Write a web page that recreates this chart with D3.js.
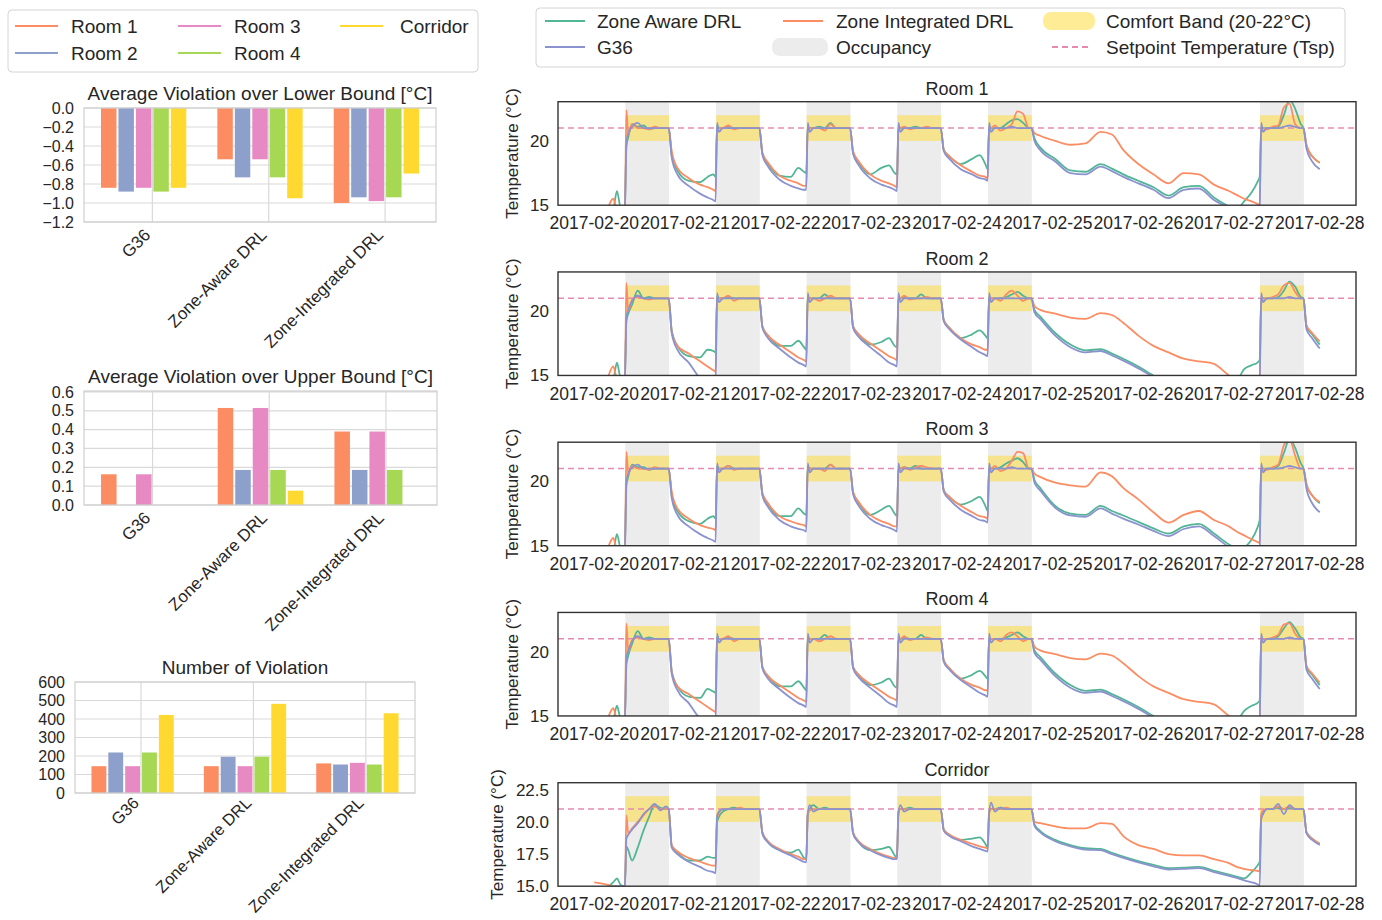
<!DOCTYPE html>
<html>
<head>
<meta charset="utf-8">
<title>Comfort violations and zone temperatures</title>
<style>
  body { margin: 0; background: #fff; }
  svg { font-family: "Liberation Sans", Arial, Helvetica, sans-serif; }
</style>
</head>
<body>
<svg width="1382" height="920" viewBox="0 0 1382 920"></svg>
<script src="https://d3js.org/d3.v7.min.js"></script>
<script>
// ---- bar chart data (left column) ----
const zones = ['Room 1', 'Room 2', 'Room 3', 'Room 4', 'Corridor'];
const methods = ['G36', 'Zone-Aware DRL', 'Zone-Integrated DRL'];

const lowerG36 = [-0.84, -0.88, -0.84, -0.88, -0.84];
const lowerZoneAware = [-0.54, -0.73, -0.54, -0.73, -0.95];
const lowerZoneIntegrated = [-1.0, -0.94, -0.98, -0.94, -0.69];

const upperG36 = [0.163, 0, 0.163, 0, 0];
const upperZoneAware = [0.515, 0.186, 0.515, 0.186, 0.076];
const upperZoneIntegrated = [0.39, 0.186, 0.39, 0.186, 0];

const countG36 = [145, 219, 145, 219, 422];
const countZoneAware = [145, 196, 145, 196, 482];
const countZoneIntegrated = [160, 154, 163, 154, 431];

const lowerTicks = [0, -0.2, -0.4, -0.6, -0.8, -1.0, -1.2];
const upperTicks = [0, 0.1, 0.2, 0.3, 0.4, 0.5, 0.6];
const countTicks = [0, 100, 200, 300, 400, 500, 600];

// ---- time series data (right column) ----
// hours after 2017-02-20 00:00
const hours = [
  0, 3, 5, 6, 7, 8.1,
  8.5, 9, 10, 11.5, 13, 14.5, 16, 17.5, 19, 19.7,
  20.5, 22, 25, 28, 30, 31.5, 32.1,
  32.5, 33, 34, 35.5, 37, 38.5, 40, 41.5, 43, 43.7,
  44.5, 46, 49, 52, 54, 55.5, 56.1,
  56.5, 57, 58, 59.5, 61, 62.5, 64, 65.5, 67, 67.7,
  68.5, 70, 73, 76, 78, 79.5, 80.1,
  80.5, 81, 82, 83.5, 85, 86.5, 88, 89.5, 91, 91.7,
  92.5, 94, 97, 100, 102, 103.5, 104.1,
  104.5, 105, 106, 107.5, 109, 110.5, 112, 113.5, 115, 115.7,
  116.5, 118, 122, 126, 130, 134, 137, 140, 144, 148, 152, 156, 160, 164, 168, 170, 172, 174, 175.5, 176.1,
  176.5, 177, 178, 179.5, 181, 182.5, 184, 185.5, 187, 187.7,
  188.5, 190, 192
];

const room1ZoneAware = [
  14.5, 14.5, 14.7, 16.1, 14.8, 15.0,
  19.6, 20.3, 21.3, 21.1, 21.2, 20.9, 21.0, 21.0, 21.0, 21.0,
  18.9, 17.7, 16.9, 16.8, 17.2, 17.4, 17.2,
  21.2, 21.0, 21.0, 21.1, 21.0, 21.0, 21.0, 21.0, 21.0, 21.0,
  19.0, 18.2, 17.3, 17.2, 17.9, 17.6, 17.5,
  21.1, 21.0, 21.0, 21.1, 21.0, 21.4, 21.0, 21.0, 21.0, 21.0,
  19.1, 18.3, 17.4, 17.9, 18.1, 17.5, 17.4,
  21.1, 21.0, 21.0, 21.0, 21.1, 21.0, 21.0, 21.0, 21.0, 21.0,
  19.3, 18.8, 18.2, 18.6, 18.9, 18.2, 17.8,
  21.0, 21.0, 21.0, 21.0, 21.3, 21.6, 21.7, 21.4, 21.0, 21.0,
  20.2, 19.5, 18.6, 17.7, 17.6, 18.2, 17.85, 17.4, 16.9, 16.4, 15.75, 16.4, 16.5, 15.6, 14.9, 14.7, 15.3, 16.0, 16.8, 17.2,
  20.8, 21.0, 21.0, 21.0, 21.1, 22.0, 23.2, 22.5, 21.3, 21.0,
  19.6, 18.8, 18.3
];
const room1ZoneIntegrated = [
  14.5, 14.6, 15.5, 14.8, 14.8, 14.9,
  22.4, 20.5, 21.3, 21.0, 21.0, 20.9, 21.1, 21.0, 21.0, 21.0,
  19.2, 17.9, 17.1, 16.6, 16.4, 16.2, 16.1,
  21.0, 21.0, 21.0, 21.2, 20.9, 21.0, 21.0, 21.0, 21.0, 21.0,
  19.1, 18.3, 17.3, 16.9, 16.7, 16.5, 16.5,
  21.0, 21.0, 21.0, 21.0, 20.8, 21.3, 21.0, 21.0, 21.0, 21.0,
  19.2, 18.4, 17.4, 16.9, 16.7, 16.5, 16.4,
  21.0, 21.0, 21.1, 20.9, 21.0, 21.0, 21.1, 21.0, 21.0, 21.0,
  19.3, 18.8, 18.1, 17.6, 17.3, 17.2, 17.1,
  21.0, 21.0, 21.2, 20.8, 21.0, 21.3, 22.3, 22.1, 21.0, 21.0,
  20.6, 20.4, 20.0, 19.7, 19.8, 20.7, 20.5, 19.3, 18.2, 17.4, 16.7, 17.5, 17.4, 16.6, 16.1, 15.8, 15.5, 15.3, 15.1, 15.0,
  21.0, 21.0, 20.9, 21.1, 21.2, 22.6, 22.9, 21.3, 21.0, 21.0,
  19.7, 18.8, 18.3
];
const room1G36 = [
  14.5, 14.5, 14.5, 14.5, 14.6, 14.8,
  19.8, 20.6, 21.1, 21.4, 21.0, 21.0, 21.0, 21.0, 21.0, 21.0,
  18.7, 17.4, 16.5, 15.9, 15.6, 15.4, 15.3,
  21.4, 20.7, 21.0, 21.0, 21.0, 21.0, 21.0, 21.0, 21.0, 21.0,
  18.9, 18.0, 17.0, 16.5, 16.3, 16.2, 16.2,
  21.4, 20.7, 21.0, 21.0, 21.0, 21.0, 21.0, 21.0, 21.0, 21.0,
  19.0, 18.1, 17.1, 16.6, 16.4, 16.2, 16.1,
  21.4, 20.7, 21.0, 21.0, 21.0, 21.0, 21.0, 21.0, 21.0, 21.0,
  19.2, 18.6, 17.8, 17.4, 17.1, 17.0, 16.9,
  21.4, 20.7, 21.0, 21.0, 21.0, 21.1, 21.0, 21.0, 21.0, 21.0,
  20.0, 19.3, 18.4, 17.5, 17.4, 18.0, 17.65, 17.2, 16.7, 16.2, 15.55, 16.2, 16.3, 15.4, 14.8, 14.6, 14.5, 14.5, 14.5, 14.6,
  21.4, 20.7, 21.0, 21.0, 21.0, 21.1, 21.2, 21.1, 21.0, 21.0,
  19.4, 18.4, 17.8
];

const room2ZoneAware = [
  14.5, 14.5, 14.7, 16.0, 14.8, 14.9,
  19.2, 19.8, 20.5, 21.6, 21.0, 21.1, 21.0, 21.0, 21.0, 21.0,
  18.5, 17.3, 16.5, 16.4, 17.0, 16.9, 16.8,
  21.2, 21.0, 21.0, 21.1, 21.0, 21.0, 21.0, 21.0, 21.0, 21.0,
  18.8, 18.1, 17.3, 17.3, 17.7, 17.2, 17.0,
  21.1, 21.0, 21.0, 21.0, 21.3, 21.0, 21.0, 21.0, 21.0, 21.0,
  18.8, 18.2, 17.4, 17.6, 17.9, 17.3, 17.2,
  21.0, 21.0, 21.1, 21.0, 21.0, 21.3, 21.0, 21.0, 21.0, 21.0,
  19.3, 18.7, 17.9, 18.2, 18.5, 18.1, 17.9,
  21.0, 21.0, 21.0, 21.0, 21.1, 21.3, 21.5, 21.2, 21.0, 21.0,
  20.1, 19.6, 18.3, 17.4, 16.95, 17.05, 16.7, 16.3, 15.7, 15.0, 14.6, 14.5, 14.5, 14.5, 14.5, 14.6, 15.5, 15.8, 16.0, 16.2,
  20.6, 21.0, 21.0, 21.0, 21.1, 21.6, 22.3, 21.9, 21.1, 21.0,
  18.8, 18.2, 17.4
];
const room2ZoneIntegrated = [
  14.5, 14.6, 15.7, 14.8, 14.7, 14.8,
  22.2, 20.0, 20.9, 21.1, 21.0, 20.9, 21.0, 21.0, 21.0, 21.0,
  18.4, 17.3, 16.7, 16.1, 15.7, 15.4, 15.3,
  21.0, 21.0, 21.0, 21.2, 20.8, 21.0, 21.0, 21.0, 21.0, 21.0,
  18.8, 18.1, 17.4, 16.8, 16.4, 16.2, 16.1,
  21.0, 21.0, 21.0, 20.8, 21.0, 21.2, 21.0, 21.0, 21.0, 21.0,
  18.8, 18.2, 17.5, 16.9, 16.5, 16.3, 16.2,
  21.0, 21.0, 21.2, 20.9, 21.0, 21.0, 21.1, 21.0, 21.0, 21.0,
  19.3, 18.7, 17.9, 17.4, 17.2, 17.0, 17.0,
  21.0, 21.0, 21.0, 20.8, 21.3, 21.6, 21.2, 20.8, 21.0, 21.0,
  20.4, 20.1, 19.8, 19.5, 19.4, 19.85, 19.7, 19.1, 18.1, 17.3, 16.8, 16.3, 16.1, 15.9, 15.0, 14.7, 14.5, 14.5, 14.5, 14.6,
  21.0, 21.0, 21.0, 21.1, 21.3, 22.0, 22.2, 21.5, 21.0, 21.0,
  18.9, 18.3, 17.65
];
const room2G36 = [
  14.5, 14.5, 14.5, 14.5, 14.6, 14.7,
  19.5, 20.1, 20.8, 21.2, 21.0, 21.0, 21.0, 21.0, 21.0, 21.0,
  18.3, 17.0, 16.0, 14.8, 14.5, 14.4, 14.4,
  21.4, 20.7, 21.0, 21.0, 21.0, 21.0, 21.0, 21.0, 21.0, 21.0,
  18.7, 17.9, 17.1, 16.4, 16.0, 15.8, 15.7,
  21.4, 20.7, 21.0, 21.0, 21.0, 21.0, 21.0, 21.0, 21.0, 21.0,
  18.7, 18.0, 17.2, 16.5, 16.0, 15.8, 15.7,
  21.4, 20.7, 21.0, 21.0, 21.0, 21.0, 21.0, 21.0, 21.0, 21.0,
  19.2, 18.6, 17.8, 17.2, 16.8, 16.6, 16.5,
  21.4, 20.7, 21.0, 21.0, 21.0, 21.0, 21.0, 21.0, 21.0, 21.0,
  19.9, 19.4, 18.1, 17.2, 16.8, 16.9, 16.55, 16.15, 15.55, 14.9, 14.5, 14.5, 14.5, 14.5, 14.5, 14.5, 14.5, 14.5, 14.5, 14.6,
  21.4, 20.7, 21.0, 21.0, 21.0, 21.0, 21.1, 21.0, 21.0, 21.0,
  18.6, 17.9, 17.1
];

const room3ZoneAware = [
  14.5, 14.5, 14.6, 15.9, 14.8, 15.0,
  19.7, 20.4, 21.3, 21.1, 21.1, 20.9, 21.0, 21.0, 21.0, 21.0,
  18.9, 17.7, 16.9, 16.7, 17.1, 17.3, 17.1,
  21.2, 21.0, 21.0, 21.2, 21.0, 21.0, 21.0, 21.0, 21.0, 21.0,
  19.0, 18.2, 17.3, 17.3, 17.9, 17.5, 17.4,
  21.1, 21.0, 21.0, 21.0, 21.0, 21.3, 21.0, 21.0, 21.0, 21.0,
  19.1, 18.3, 17.4, 17.8, 18.1, 17.5, 17.3,
  21.0, 21.0, 21.1, 21.0, 21.2, 21.0, 21.0, 21.0, 21.0, 21.0,
  19.3, 18.8, 18.2, 18.5, 18.8, 18.1, 17.7,
  21.0, 21.0, 21.0, 21.1, 21.4, 21.6, 21.8, 21.5, 21.0, 21.0,
  20.1, 19.5, 18.1, 17.5, 17.4, 18.1, 17.7, 17.35, 16.85, 16.35, 15.95, 16.5, 16.7, 15.95, 15.1, 14.8, 14.9, 15.5, 16.4, 17.0,
  20.8, 21.0, 21.0, 21.0, 21.2, 22.2, 23.3, 22.6, 21.4, 21.0,
  19.7, 18.9, 18.3
];
const room3ZoneIntegrated = [
  14.5, 14.6, 15.6, 14.8, 14.8, 14.9,
  22.3, 20.6, 21.2, 21.0, 21.0, 20.9, 21.1, 21.0, 21.0, 21.0,
  19.2, 17.9, 17.1, 16.6, 16.4, 16.3, 16.2,
  21.0, 21.0, 21.0, 21.2, 20.9, 21.0, 21.0, 21.0, 21.0, 21.0,
  19.1, 18.3, 17.3, 16.9, 16.7, 16.6, 16.5,
  21.0, 21.0, 21.0, 21.0, 20.8, 21.3, 21.0, 21.0, 21.0, 21.0,
  19.2, 18.4, 17.4, 16.9, 16.7, 16.5, 16.5,
  21.0, 21.0, 21.1, 20.9, 21.1, 21.2, 21.1, 21.0, 21.0, 21.0,
  19.3, 18.8, 18.1, 17.6, 17.3, 17.2, 17.1,
  21.0, 21.0, 21.2, 20.8, 21.0, 21.6, 22.3, 22.2, 21.0, 21.0,
  20.6, 20.35, 19.9, 19.7, 19.6, 20.7, 20.4, 19.5, 18.6, 17.6, 16.8, 17.4, 17.7, 17.0, 16.5, 16.1, 15.8, 15.5, 15.3, 15.2,
  21.0, 21.0, 20.9, 21.1, 21.3, 22.8, 23.3, 22.0, 21.0, 21.0,
  19.8, 18.9, 18.4
];
const room3G36 = [
  14.5, 14.5, 14.5, 14.5, 14.6, 14.8,
  19.9, 20.6, 21.1, 21.3, 21.0, 21.0, 21.0, 21.0, 21.0, 21.0,
  18.7, 17.4, 16.5, 15.9, 15.6, 15.4, 15.3,
  21.4, 20.7, 21.0, 21.0, 21.0, 21.0, 21.0, 21.0, 21.0, 21.0,
  18.9, 18.0, 17.0, 16.5, 16.3, 16.2, 16.1,
  21.4, 20.7, 21.0, 21.0, 21.0, 21.0, 21.0, 21.0, 21.0, 21.0,
  19.0, 18.1, 17.1, 16.6, 16.4, 16.2, 16.1,
  21.4, 20.7, 21.0, 21.0, 21.0, 21.0, 21.0, 21.0, 21.0, 21.0,
  19.2, 18.6, 17.8, 17.3, 17.0, 16.9, 16.8,
  21.4, 20.7, 21.0, 21.0, 21.0, 21.1, 21.0, 21.0, 21.0, 21.0,
  19.9, 19.3, 17.95, 17.35, 17.25, 17.9, 17.5, 17.1, 16.65, 16.15, 15.75, 16.3, 16.5, 15.75, 14.9, 14.6, 14.5, 14.5, 14.5, 14.6,
  21.4, 20.7, 21.0, 21.0, 21.0, 21.1, 21.2, 21.1, 21.0, 21.0,
  19.4, 18.3, 17.6
];

const room4ZoneAware = [
  14.5, 14.5, 14.7, 15.8, 14.8, 14.9,
  19.0, 19.7, 20.6, 21.6, 21.0, 21.1, 21.0, 21.0, 21.0, 21.0,
  18.5, 17.3, 16.5, 16.4, 17.1, 16.9, 16.8,
  21.2, 21.0, 21.0, 21.1, 21.0, 21.0, 21.0, 21.0, 21.0, 21.0,
  18.8, 18.1, 17.3, 17.3, 17.7, 17.2, 17.0,
  21.1, 21.0, 21.0, 21.0, 21.3, 21.0, 21.0, 21.0, 21.0, 21.0,
  18.8, 18.2, 17.4, 17.6, 17.9, 17.3, 17.2,
  21.0, 21.0, 21.1, 21.0, 21.0, 21.3, 21.0, 21.0, 21.0, 21.0,
  19.3, 18.7, 17.9, 18.2, 18.5, 18.1, 17.9,
  21.0, 21.0, 21.0, 21.0, 21.1, 21.3, 21.5, 21.2, 21.0, 21.0,
  20.1, 19.6, 18.3, 17.4, 16.95, 17.05, 16.7, 16.3, 15.7, 15.0, 14.6, 14.5, 14.5, 14.5, 14.5, 14.6, 15.4, 15.8, 16.0, 16.2,
  20.6, 21.0, 21.0, 21.0, 21.2, 21.8, 22.3, 21.8, 21.1, 21.0,
  18.8, 18.2, 17.4
];
const room4ZoneIntegrated = [
  14.5, 14.6, 15.6, 14.8, 14.7, 14.8,
  22.2, 20.0, 20.9, 21.1, 21.0, 20.9, 21.0, 21.0, 21.0, 21.0,
  18.4, 17.3, 16.7, 16.1, 15.7, 15.4, 15.3,
  21.0, 21.0, 21.0, 21.2, 20.8, 21.0, 21.0, 21.0, 21.0, 21.0,
  18.8, 18.1, 17.4, 16.8, 16.4, 16.2, 16.1,
  21.0, 21.0, 21.0, 20.8, 21.0, 21.2, 21.0, 21.0, 21.0, 21.0,
  18.8, 18.2, 17.5, 16.9, 16.5, 16.3, 16.2,
  21.0, 21.0, 21.2, 20.9, 21.0, 21.0, 21.1, 21.0, 21.0, 21.0,
  19.3, 18.7, 17.9, 17.4, 17.2, 17.0, 17.0,
  21.0, 21.0, 21.0, 20.8, 21.3, 21.5, 21.2, 20.8, 21.0, 21.0,
  20.4, 20.1, 19.8, 19.5, 19.4, 19.85, 19.7, 19.1, 18.1, 17.3, 16.8, 16.3, 16.1, 15.9, 15.0, 14.7, 14.5, 14.5, 14.5, 14.6,
  21.0, 21.0, 21.0, 21.1, 21.3, 22.1, 22.2, 21.4, 21.0, 21.0,
  18.9, 18.3, 17.6
];
const room4G36 = [
  14.5, 14.5, 14.5, 14.5, 14.6, 14.7,
  19.5, 20.1, 20.8, 21.2, 21.0, 21.0, 21.0, 21.0, 21.0, 21.0,
  18.3, 17.0, 16.0, 14.8, 14.5, 14.4, 14.4,
  21.4, 20.7, 21.0, 21.0, 21.0, 21.0, 21.0, 21.0, 21.0, 21.0,
  18.7, 17.9, 17.1, 16.4, 16.0, 15.8, 15.7,
  21.4, 20.7, 21.0, 21.0, 21.0, 21.0, 21.0, 21.0, 21.0, 21.0,
  18.7, 18.0, 17.2, 16.5, 16.0, 15.8, 15.7,
  21.4, 20.7, 21.0, 21.0, 21.0, 21.0, 21.0, 21.0, 21.0, 21.0,
  19.2, 18.6, 17.8, 17.2, 16.8, 16.6, 16.5,
  21.4, 20.7, 21.0, 21.0, 21.0, 21.0, 21.0, 21.0, 21.0, 21.0,
  19.9, 19.4, 18.1, 17.2, 16.8, 16.9, 16.55, 16.15, 15.55, 14.9, 14.5, 14.5, 14.5, 14.5, 14.5, 14.5, 14.5, 14.5, 14.5, 14.6,
  21.4, 20.7, 21.0, 21.0, 21.0, 21.0, 21.1, 21.0, 21.0, 21.0,
  18.6, 17.9, 17.1
];

const corridorZoneAware = [
  14.9, 14.9, 15.3, 15.6, 15.1, 15.0,
  18.1, 17.8, 17.0, 18.0, 19.3, 20.4, 21.3, 21.1, 21.0, 21.0,
  18.1, 17.6, 17.0, 17.0, 17.3, 17.2, 17.2,
  20.0, 20.4, 20.8, 21.0, 21.1, 21.0, 21.0, 21.0, 21.0, 21.0,
  19.1, 18.4, 17.8, 17.6, 17.85, 17.2, 17.1,
  20.6, 21.0, 21.3, 21.0, 21.1, 21.0, 21.0, 21.0, 21.0, 21.0,
  19.1, 18.4, 17.8, 17.9, 18.05, 17.4, 17.2,
  20.8, 21.0, 21.0, 21.1, 21.0, 21.0, 21.0, 21.0, 21.0, 21.0,
  19.4, 19.0, 18.6, 18.7, 18.8, 18.3, 18.0,
  20.8, 21.0, 21.0, 21.1, 21.0, 21.0, 21.0, 21.0, 21.0, 21.0,
  19.8, 19.3, 18.6, 18.2, 17.95, 17.9, 17.6, 17.3, 16.95, 16.65, 16.4, 16.45, 16.5, 16.2, 15.9, 15.75, 15.6, 16.1, 16.6, 16.9,
  20.3, 20.7, 21.0, 21.0, 21.1, 21.0, 21.1, 21.0, 21.0, 21.0,
  19.2, 18.7, 18.3
];
const corridorZoneIntegrated = [
  15.3, 15.15, 15.0, 14.95, 14.9, 14.9,
  20.5, 19.1, 19.5, 20.0, 20.5, 21.0, 21.2, 21.0, 21.0, 21.0,
  18.2, 17.7, 17.2, 16.9, 16.7, 16.6, 16.6,
  20.3, 20.7, 21.0, 21.0, 21.0, 21.1, 21.0, 21.0, 21.0, 21.0,
  19.2, 18.5, 17.9, 17.5, 17.3, 17.1, 17.1,
  20.5, 20.9, 21.0, 21.0, 21.0, 21.0, 21.0, 21.0, 21.0, 21.0,
  19.2, 18.5, 17.9, 17.5, 17.3, 17.2, 17.2,
  20.8, 21.0, 21.0, 21.0, 21.0, 21.0, 21.0, 21.0, 21.0, 21.0,
  19.4, 19.0, 18.6, 18.3, 18.1, 18.0, 17.95,
  20.7, 21.0, 21.0, 21.0, 21.1, 21.0, 21.0, 21.0, 21.0, 21.0,
  20.0, 19.9, 19.65, 19.5, 19.5, 19.9, 19.85, 18.9, 18.2, 17.9, 17.5, 17.4, 17.4, 17.1, 16.8, 16.5, 16.35, 16.25, 16.2, 16.15,
  20.6, 20.9, 21.0, 21.0, 21.2, 21.0, 21.2, 21.0, 21.0, 21.0,
  19.2, 18.7, 18.3
];
const corridorG36 = [
  14.9, 14.9, 15.0, 15.0, 15.0, 15.0,
  18.7, 19.0, 19.4, 19.9, 20.6, 21.0, 21.4, 20.9, 21.2, 21.0,
  18.0, 17.5, 16.9, 16.5, 16.2, 16.1, 16.0,
  20.5, 20.8, 21.0, 21.0, 21.0, 21.0, 21.0, 21.0, 21.0, 21.0,
  19.1, 18.4, 17.8, 17.4, 17.1, 16.9, 16.85,
  20.6, 21.3, 20.8, 21.0, 21.0, 21.0, 21.0, 21.0, 21.0, 21.0,
  19.1, 18.4, 17.8, 17.4, 17.2, 17.1, 17.1,
  20.6, 21.3, 20.8, 21.0, 21.0, 21.0, 21.0, 21.0, 21.0, 21.0,
  19.3, 18.9, 18.5, 18.1, 17.9, 17.75, 17.7,
  20.6, 21.5, 20.8, 21.1, 21.0, 21.0, 21.0, 21.0, 21.0, 21.0,
  19.7, 19.2, 18.5, 18.1, 17.85, 17.8, 17.5, 17.2, 16.85, 16.55, 16.3, 16.35, 16.4, 16.1, 15.8, 15.65, 15.45, 15.3, 15.15, 15.05,
  20.2, 20.6, 21.0, 21.0, 21.4, 20.6, 21.3, 21.0, 21.0, 21.0,
  19.1, 18.6, 18.2
];

const panelTitles = ['Room 1', 'Room 2', 'Room 3', 'Room 4', 'Corridor'];
const occupiedDays = ['2017-02-20', '2017-02-21', '2017-02-22', '2017-02-23', '2017-02-24', '2017-02-27'];
const occupiedHours = [8.2, 19.8];
const comfortBand = [20, 22];
const setpoint = 21;
const seriesNames = ['Zone Aware DRL', 'G36', 'Zone Integrated DRL'];

// ---------------------------------------------------------------
const svg = d3.select('svg');
const ink = '#262626';
const zoneColors = ['#fc8d62', '#8da0cb', '#e78ac3', '#a6d854', '#ffd92f'];
const lineColors = { za: '#52b596', g36: '#8b93cf', zi: '#fc8d62' };
const gridColor = '#d9d9d9';

svg.append('rect').attr('width', 1382).attr('height', 920).attr('fill', '#fff');

// ---- left legend ----
const legL = svg.append('g');
legL.append('rect')
  .attr('x', 8).attr('y', 10).attr('width', 470).attr('height', 62).attr('rx', 4)
  .attr('fill', '#fff').attr('stroke', '#d4d4d4');
const legLpos = [[15, 26], [15, 53], [178, 26], [178, 53], [340, 26]];
zones.forEach((z, i) => {
  const [lx, ly] = legLpos[i];
  legL.append('line')
    .attr('x1', lx).attr('x2', lx + 43).attr('y1', ly).attr('y2', ly)
    .attr('stroke', zoneColors[i]).attr('stroke-width', 2.2);
  legL.append('text')
    .attr('x', lx + (i === 4 ? 60 : 56)).attr('y', ly).attr('dy', '0.35em')
    .attr('font-size', '19px').attr('fill', ink)
    .text(z);
});

// ---- grouped bar charts ----
function barChart (cfg) {
  const g = svg.append('g');
  const x = d3.scaleLinear().domain([-0.5875, 2.4375]).range([cfg.left, cfg.right]);
  const y = d3.scaleLinear().domain(cfg.domain).range([cfg.bottom, cfg.top]);
  const bw = 0.15;

  // grid
  g.selectAll('.hg').data(cfg.ticks).join('line')
    .attr('x1', cfg.left).attr('x2', cfg.right)
    .attr('y1', d => y(d)).attr('y2', d => y(d))
    .attr('stroke', gridColor).attr('stroke-width', 1.2);
  g.selectAll('.vg').data(methods).join('line')
    .attr('x1', (d, i) => x(i)).attr('x2', (d, i) => x(i))
    .attr('y1', cfg.top).attr('y2', cfg.bottom)
    .attr('stroke', gridColor).attr('stroke-width', 1.2);

  // bars
  cfg.series.forEach((vals, m) => {
    vals.forEach((v, z) => {
      const cx = m + (z - 2.5) * bw;
      const x0 = x(cx - bw / 2) + 1;
      const x1 = x(cx + bw / 2) - 1;
      g.append('rect')
        .attr('x', x0).attr('width', x1 - x0)
        .attr('y', Math.min(y(0), y(v)))
        .attr('height', Math.abs(y(v) - y(0)))
        .attr('fill', zoneColors[z]);
    });
  });

  // frame
  g.append('rect')
    .attr('x', cfg.left).attr('y', cfg.top)
    .attr('width', cfg.right - cfg.left).attr('height', cfg.bottom - cfg.top)
    .attr('fill', 'none').attr('stroke', '#cfcfcf').attr('stroke-width', 1.2);

  // y tick labels
  g.selectAll('.yt').data(cfg.ticks).join('text')
    .attr('x', cfg.left - 10).attr('y', d => y(d)).attr('dy', '0.35em')
    .attr('text-anchor', 'end').attr('font-size', '16px').attr('fill', ink)
    .text(cfg.format);

  // category labels
  g.selectAll('.xt').data(methods).join('text')
    .attr('transform', (d, i) => `translate(${x(i) - 1},${cfg.bottom + cfg.labelGap}) rotate(-45)`)
    .attr('text-anchor', 'end').attr('font-size', cfg.labelSize).attr('fill', ink)
    .text(d => d);

  g.append('text')
    .attr('x', (cfg.left + cfg.right) / 2).attr('y', cfg.top - 8)
    .attr('text-anchor', 'middle').attr('font-size', '19px').attr('fill', ink)
    .text(cfg.title);
}

barChart({
  title: 'Average Violation over Lower Bound [°C]',
  left: 84, right: 436, top: 108, bottom: 222, labelGap: 14, labelSize: '17px',
  domain: [-1.2, 0], ticks: lowerTicks, format: d3.format('.1f'),
  series: [lowerG36, lowerZoneAware, lowerZoneIntegrated]
});
barChart({
  title: 'Average Violation over Upper Bound [°C]',
  left: 84, right: 437, top: 391, bottom: 505, labelGap: 14, labelSize: '17px',
  domain: [0, 0.605], ticks: upperTicks, format: d3.format('.1f'),
  series: [upperG36, upperZoneAware, upperZoneIntegrated]
});
barChart({
  title: 'Number of Violation',
  left: 75, right: 415, top: 682, bottom: 793, labelGap: 11, labelSize: '16.5px',
  domain: [0, 600], ticks: countTicks, format: d3.format('d'),
  series: [countG36, countZoneAware, countZoneIntegrated]
});

// ---- right legend ----
const legR = svg.append('g');
legR.append('rect')
  .attr('x', 536).attr('y', 8).attr('width', 809).attr('height', 59).attr('rx', 4)
  .attr('fill', '#fff').attr('stroke', '#d4d4d4');
function legLine (x0, yy, color, dash) {
  legR.append('line')
    .attr('x1', x0).attr('x2', x0 + 40).attr('y1', yy).attr('y2', yy)
    .attr('stroke', color).attr('stroke-width', 2)
    .attr('stroke-dasharray', dash || null);
}
function legText (x0, yy, label) {
  legR.append('text')
    .attr('x', x0).attr('y', yy).attr('dy', '0.35em')
    .attr('font-size', '19px').attr('fill', ink).text(label);
}
legLine(545, 21, lineColors.za); legText(597, 21, seriesNames[0]);
legLine(545, 47, lineColors.g36); legText(597, 47, seriesNames[1]);
legLine(783, 21, lineColors.zi); legText(836, 21, seriesNames[2]);
legR.append('rect').attr('x', 772).attr('y', 38).attr('width', 56).attr('height', 18).attr('rx', 8)
  .attr('fill', '#ececec');
legText(836, 47, 'Occupancy');
legR.append('rect').attr('x', 1043).attr('y', 12).attr('width', 52).attr('height', 18).attr('rx', 8)
  .attr('fill', '#ffd92f').attr('opacity', 0.5);
legText(1106, 21, 'Comfort Band (20-22°C)');
legLine(1052, 47, '#e68ab0', '6,4');
legText(1106, 47, 'Setpoint Temperature (Tsp)');

// ---- temperature panels ----
const t0 = new Date(2017, 1, 20);
const toDate = h => new Date(t0.getTime() + h * 3600e3);
const x = d3.scaleTime().domain([toDate(-9.6), toDate(201.6)]).range([558, 1356]);
const dayTicks = d3.range(0, 9).map(d => toDate(d * 24));
const fmtDay = d3.timeFormat('%Y-%m-%d');
const parseDay = d3.timeParse('%Y-%m-%d');

const panels = [
  { za: room1ZoneAware, g36: room1G36, zi: room1ZoneIntegrated, ticks: [15, 20], fmt: d3.format('d') },
  { za: room2ZoneAware, g36: room2G36, zi: room2ZoneIntegrated, ticks: [15, 20], fmt: d3.format('d') },
  { za: room3ZoneAware, g36: room3G36, zi: room3ZoneIntegrated, ticks: [15, 20], fmt: d3.format('d') },
  { za: room4ZoneAware, g36: room4G36, zi: room4ZoneIntegrated, ticks: [15, 20], fmt: d3.format('d') },
  { za: corridorZoneAware, g36: corridorG36, zi: corridorZoneIntegrated, ticks: [15, 17.5, 20, 22.5], fmt: d3.format('.1f') }
];

panels.forEach((p, i) => {
  const top = 101.7 + i * 170.25;
  const h = 103.5;
  const left = 558, right = 1356;
  const y = d3.scaleLinear().domain([15, 23.05]).range([top + h, top]);
  const g = svg.append('g');

  const clipId = 'clip' + i;
  svg.append('clipPath').attr('id', clipId)
    .append('rect').attr('x', left).attr('y', top).attr('width', right - left).attr('height', h);
  const inner = g.append('g').attr('clip-path', `url(#${clipId})`);

  // occupancy and comfort band
  occupiedDays.forEach(day => {
    const d0 = parseDay(day);
    const xa = x(new Date(d0.getTime() + occupiedHours[0] * 3600e3));
    const xb = x(new Date(d0.getTime() + occupiedHours[1] * 3600e3));
    inner.append('rect').attr('x', xa).attr('width', xb - xa)
      .attr('y', top).attr('height', h).attr('fill', '#ececec');
    inner.append('rect').attr('x', xa).attr('width', xb - xa)
      .attr('y', y(comfortBand[1])).attr('height', y(comfortBand[0]) - y(comfortBand[1]))
      .attr('fill', '#ffd92f').attr('opacity', 0.5);
  });

  inner.append('line')
    .attr('x1', left).attr('x2', right).attr('y1', y(setpoint)).attr('y2', y(setpoint))
    .attr('stroke', '#e68ab0').attr('stroke-width', 1.6).attr('stroke-dasharray', '6,4');

  const line = d3.line()
    .x((d, k) => x(toDate(hours[k])))
    .y(d => y(d))
    .curve(d3.curveMonotoneX);
  [['za', lineColors.za], ['zi', lineColors.zi], ['g36', lineColors.g36]].forEach(([key, color]) => {
    inner.append('path')
      .datum(p[key])
      .attr('d', line)
      .attr('fill', 'none')
      .attr('stroke', color)
      .attr('stroke-width', 1.8)
      .attr('stroke-linejoin', 'round');
  });

  g.append('rect')
    .attr('x', left).attr('y', top).attr('width', right - left).attr('height', h)
    .attr('fill', 'none').attr('stroke', '#333').attr('stroke-width', 1.4);

  g.append('text')
    .attr('x', (left + right) / 2).attr('y', top - 7)
    .attr('text-anchor', 'middle').attr('font-size', '18px').attr('fill', ink)
    .text(panelTitles[i]);

  g.selectAll('.xt').data(dayTicks).join('text')
    .attr('x', d => x(d)).attr('y', top + h + 18).attr('dy', '0.35em')
    .attr('text-anchor', 'middle').attr('font-size', '17.5px').attr('fill', ink)
    .text(fmtDay);

  g.selectAll('.yt').data(p.ticks).join('text')
    .attr('x', left - 9).attr('y', d => y(d)).attr('dy', '0.35em')
    .attr('text-anchor', 'end').attr('font-size', '17px').attr('fill', ink)
    .text(p.fmt);

  const labelX = i === 4 ? 497 : 512;
  g.append('text')
    .attr('transform', `translate(${labelX},${top + h / 2}) rotate(-90)`)
    .attr('text-anchor', 'middle').attr('dy', '0.35em')
    .attr('font-size', '17px').attr('fill', ink)
    .text('Temperature (°C)');
});
</script>
</body>
</html>
